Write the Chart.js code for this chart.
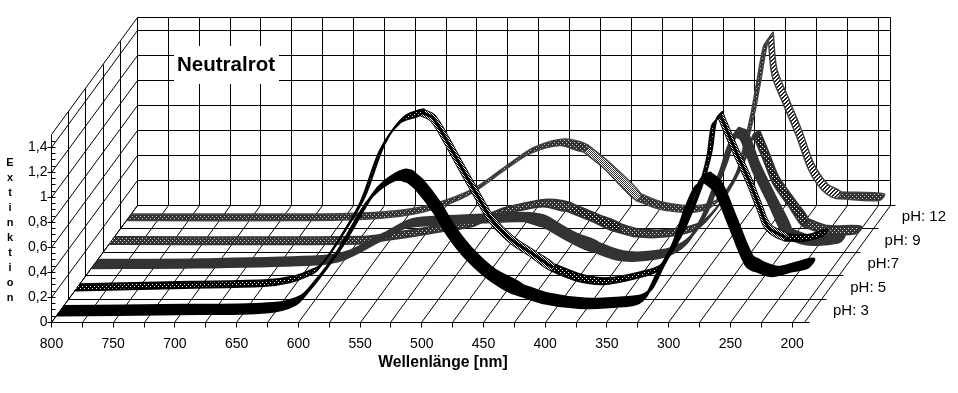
<!DOCTYPE html>
<html>
<head>
<meta charset="utf-8">
<style>
  html, body { margin: 0; padding: 0; background: #fff; }
  canvas { display: block; }
</style>
<script src="https://cdn.jsdelivr.net/npm/chart.js@4/dist/chart.umd.min.js"></script>
</head>
<body>
<canvas id="chart" width="958" height="393"></canvas>
<script>
// values
const ph3Wave = [800,703,630,607,595,590,574,550,539,524,516,509,495,483,469,450,428,407,377,347,331,323,314,301,291,283,276,267,255,242,234,221,206,192];
const ph3Ext = [0,0.01,0.025,0.085,0.21,0.27,0.485,0.885,1.005,1.09,1.07,1.01,0.83,0.635,0.46,0.29,0.17,0.1,0.06,0.07,0.09,0.15,0.325,0.565,0.845,1.02,1.07,0.99,0.71,0.405,0.355,0.315,0.35,0.38];
const ph5Wave = [800,711,647,626,612,604,588,569,553,537,521,512,501,491,477,464,448,432,415,394,372,345,329,313,296,288,284,279,267,256,248,240,226,210,194];
const ph5Ext = [0,0.02,0.035,0.065,0.115,0.16,0.38,0.7,1.12,1.34,1.4,1.355,1.18,1,0.755,0.54,0.38,0.275,0.16,0.08,0.05,0.1,0.155,0.38,0.78,1.06,1.32,1.38,1.1,0.86,0.66,0.48,0.4,0.395,0.44];
const ph7Wave = [800,715,618,596,567,545,515,483,450,434,413,394,375,359,335,319,306,298,290,285,280,274,264,251,238,221,195];
const ph7Ext = [0,0.005,0.03,0.07,0.215,0.325,0.35,0.365,0.375,0.335,0.215,0.135,0.07,0.06,0.095,0.19,0.39,0.59,0.79,0.95,1.055,1.03,0.775,0.51,0.245,0.19,0.205];
const ph9Wave = [800,597,577,553,529,505,488,470,448,429,408,389,373,349,324,308,296,288,282,277,270,262,249,238,222,195];
const ph9Ext = [0,0.003,0.03,0.065,0.105,0.145,0.22,0.265,0.3,0.265,0.18,0.1,0.06,0.06,0.12,0.285,0.48,0.645,0.82,0.845,0.68,0.485,0.3,0.145,0.09,0.085];
const ph12Wave = [800,645,597,565,538,518,494,473,449,430,413,387,370,354,338,326,316,306,299,294,290,284,280,277,268,257,247,236,225,190];
const ph12Ext = [0,0,0.015,0.055,0.135,0.23,0.4,0.535,0.6,0.55,0.415,0.16,0.095,0.07,0.07,0.11,0.215,0.375,0.64,0.855,1.07,1.39,1.455,1.16,0.935,0.67,0.4,0.24,0.175,0.16];

const seriesNames = ["pH: 3", "pH: 5", "pH:7", "pH: 9", "pH: 12"];
const xTicks = [800,775,750,725,700,675,650,625,600,575,550,525,500,475,450,425,400,375,350,325,300,275,250,225,200];
const yTicks = [0,0.2,0.4,0.6,0.8,1,1.2,1.4];
const depthLines = [0,0.2,0.4,0.6,0.8,1];

// 3D look: the depth of the box is an offset in both axes
const pxPerNm = 1.2343, pxPerExt = 125;
const xLift = 86 / pxPerNm, yLift = 117 / pxPerExt;
const xEnd = 190, yEnd = 1.5;
const xMin = 800 - 840 / pxPerNm, yMax = 304 / pxPerExt;

function project(wave, ext, depth) {
  return { x: wave - depth * xLift, y: ext + depth * yLift };
}
// grid lines sit on whole pixels so they stay sharp
function crisp(wave, ext, depth) {
  const p = project(wave, ext, depth);
  return { x: 800 - Math.round((800 - p.x) * pxPerNm) / pxPerNm, y: Math.round(p.y * pxPerExt) / pxPerExt };
}

function makePattern(bg, fg, cells, size) {
  const c = document.createElement("canvas");
  c.width = size;
  c.height = size;
  const g = c.getContext("2d");
  g.fillStyle = bg;
  g.fillRect(0, 0, size, size);
  g.fillStyle = fg;
  cells.forEach(function (p) { g.fillRect(p[0], p[1], 1, 1); });
  return g.createPattern(c, "repeat");
}
const dots = [[0,0],[2,2]];
const check = [[0,0],[2,0],[1,1],[3,1],[0,2],[2,2],[1,3],[3,3]];
const hatch = [[0,3],[1,2],[2,1],[3,0],[1,3],[2,2],[3,1],[0,0]];

const series = [
  { wave: ph3Wave, ext: ph3Ext, depth: 0.1, half: 0.036, edge: 3, flat: "#000", fall: "#000", line: "#000" },
  { wave: ph5Wave, ext: ph5Ext, depth: 0.3, half: 0.026, edge: 2, flat: makePattern("#000", "#fff", dots, 4), fall: makePattern("#000", "#fff", check, 4), line: "#000", core: true },
  { wave: ph7Wave, ext: ph7Ext, depth: 0.5, half: 0.032, edge: 3, flat: "#333", fall: "#333", line: "#333" },
  { wave: ph9Wave, ext: ph9Ext, depth: 0.7, half: 0.03, edge: 2, flat: makePattern("#333", "#ddd", dots, 4), fall: makePattern("#222", "#fff", dots, 4), line: "#333" },
  { wave: ph12Wave, ext: ph12Ext, depth: 0.9, half: 0.028, edge: 1.5, flat: makePattern("#333", "#ccc", dots, 4), fall: makePattern("#fff", "#222", hatch, 4), fallMid: makePattern("#fff", "#333", check, 4), line: "#444" }
];

// a ribbon is a closed outline: front edge out, back edge home
function ribbon(s, from, to) {
  const pts = [];
  for (let i = from; i <= to; i++) pts.push(project(s.wave[i], s.ext[i], s.depth - s.half));
  for (let i = to; i >= from; i--) pts.push(project(s.wave[i], s.ext[i], s.depth + s.half));
  return pts;
}
function centre(s, from, to) {
  const pts = [];
  for (let i = from; i <= to; i++) pts.push(project(s.wave[i], s.ext[i], s.depth));
  return pts;
}
function isFalling(s, i) {
  return s.ext[i + 1] - s.ext[i] < -0.004 * (s.wave[i] - s.wave[i + 1]);
}

const datasets = [];
series.forEach(function (s, n) {
  let start = 0;
  for (let i = 1; i < s.wave.length; i++) {
    const last = i === s.wave.length - 1;
    if (last || isFalling(s, i) !== isFalling(s, start)) {
      const falling = isFalling(s, start);
      let fill = s.flat;
      if (falling) fill = s.fallMid && s.wave[start] > 300 ? s.fallMid : s.fall;
      datasets.push({
        label: seriesNames[n],
        data: ribbon(s, start, i),
        showLine: true,
        fill: "shape",
        backgroundColor: fill,
        borderColor: s.line,
        borderWidth: falling && s.core ? 1 : s.edge,
        tension: 0.3,
        pointRadius: 0,
        order: (n + 1) * 2
      });
      if (falling && s.core) {
        datasets.push({
          label: seriesNames[n],
          data: centre(s, start, i),
          showLine: true,
          borderColor: "#000",
          borderWidth: 3,
          tension: 0.3,
          pointRadius: 0,
          order: (n + 1) * 2 - 1
        });
      }
      start = i;
    }
  }
});

// the box: back wall, left wall and floor
const gridPts = [];
function segment(a, b) {
  gridPts.push(a, b, { x: null, y: null });
}
const wallTicks = xTicks.concat([xEnd]);
wallTicks.forEach(function (w) {
  segment(crisp(w, 0, 1), crisp(w, yEnd, 1));
  segment(crisp(w, 0, 0), crisp(w, 0, 1));
});
yTicks.concat([yEnd]).forEach(function (e) {
  segment(crisp(800, e, 1), crisp(xEnd, e, 1));
  segment(crisp(800, e, 0), crisp(800, e, 1));
});
depthLines.forEach(function (d) {
  segment(crisp(800, 0, d), crisp(xEnd - 4, 0, d));
  segment(crisp(800, 0, d), crisp(800, yEnd, d));
});
// small marks on the inside of the value axis
for (let i = 0; i < 30; i++) {
  const e = i * 0.05;
  segment(crisp(800, e, 0), crisp(797, e, 0));
}
datasets.push({
  label: "grid",
  data: gridPts,
  showLine: true,
  borderColor: "#000",
  borderWidth: 1,
  pointRadius: 0,
  spanGaps: false,
  clip: false,
  order: 50
});

const textFont = '"Liberation Sans", Arial, sans-serif';
const overlay = {
  id: "overlay",
  afterDatasetsDraw: function (chart) {
    const ctx = chart.ctx;
    const sx = chart.scales.x, sy = chart.scales.y;
    ctx.save();
    ctx.fillStyle = "#fff";
    ctx.fillRect(174, 46, 105, 38);
    ctx.fillStyle = "#000";
    ctx.textBaseline = "middle";
    ctx.textAlign = "center";
    ctx.font = "bold 20.5px " + textFont;
    ctx.fillText("Neutralrot", 226, 65);
    ctx.font = "bold 15.7px " + textFont;
    ctx.fillText("Wellenl\u00e4nge [nm]", 443, 363);
    ctx.font = "bold 11px " + textFont;
    "Extinktion".split("").forEach(function (ch, i) {
      ctx.fillText(ch, 10, 163 + i * 15);
    });
    ctx.textAlign = "left";
    ctx.font = "15px " + textFont;
    series.forEach(function (s, i) {
      const p = project(xEnd, 0, s.depth);
      ctx.fillText(seriesNames[i], sx.getPixelForValue(p.x) + 20, sy.getPixelForValue(p.y));
    });
    ctx.restore();
  }
};

new Chart(document.getElementById("chart"), {
  type: "scatter",
  data: { datasets: datasets },
  plugins: [overlay],
  options: {
    responsive: false,
    animation: false,
    layout: { padding: { left: 0, top: 18.5, right: 66.5, bottom: 0 } },
    plugins: { legend: { display: false }, tooltip: { enabled: false } },
    scales: {
      x: {
        type: "linear",
        reverse: true,
        min: xMin,
        max: 800,
        afterFit: function (scale) { scale.height = 70.5; },
        afterBuildTicks: function (scale) {
          scale.ticks = xTicks.map(function (v) { return { value: v }; });
        },
        border: { display: false },
        grid: { drawOnChartArea: false, drawTicks: true, tickLength: 5, tickColor: "#000" },
        ticks: {
          autoSkip: false,
          maxRotation: 0,
          padding: 8,
          color: "#000",
          font: { family: textFont, size: 14 },
          callback: function (v) { return v % 50 === 0 ? String(v) : ""; }
        }
      },
      y: {
        type: "linear",
        min: 0,
        max: yMax,
        afterFit: function (scale) { scale.width = 51.5; },
        afterBuildTicks: function (scale) {
          scale.ticks = yTicks.map(function (v) { return { value: v }; });
        },
        border: { display: false },
        grid: { drawOnChartArea: false, drawTicks: true, tickLength: 4, tickColor: "#000" },
        ticks: {
          padding: 0,
          color: "#000",
          font: { family: textFont, size: 14 },
          callback: function (v) { return String(v).replace(".", ","); }
        }
      }
    }
  }
});
</script>
</body>
</html>
